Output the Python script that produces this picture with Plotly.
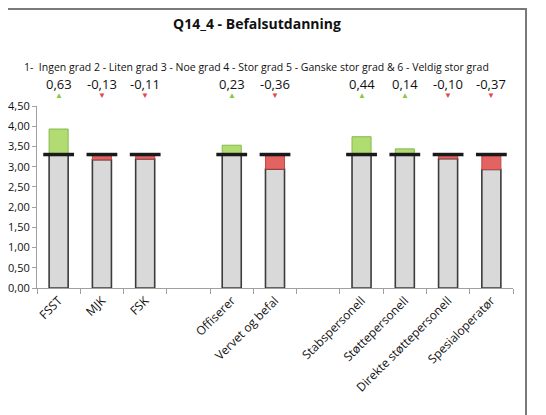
import plotly.graph_objects as go

categories = ['FSST', 'MJK', 'FSK', ' ', 'Offiserer', 'Vervet og befal', '  ',
              'Stabspersonell', 'Støttepersonell', 'Direkte støttepersonell', 'Spesialoperatør']
deltas = [0.63, -0.13, -0.11, None, 0.23, -0.36, None, 0.44, 0.14, -0.10, -0.37]
baseline = 3.30
y_ticks = [0, 0.5, 1.0, 1.5, 2.0, 2.5, 3.0, 3.5, 4.0, 4.5]
title = 'Q14_4 - Befalsutdanning'
subtitle = '1-  Ingen grad 2 - Liten grad 3 - Noe grad 4 - Stor grad 5 - Ganske stor grad & 6 - Veldig stor grad'

font = 'Open Sans'
bar_w = 0.44

cats = [c for c, d in zip(categories, deltas) if d is not None]
vals = [d for d in deltas if d is not None]
gray = [baseline + min(d, 0) for d in vals]
pos_c = [c for c, d in zip(cats, vals) if d > 0]
pos_d = [d for d in vals if d > 0]
neg_c = [c for c, d in zip(cats, vals) if d < 0]
neg_d = [d for d in vals if d < 0]

fig = go.Figure()
fig.add_trace(go.Bar(x=cats, y=gray, width=bar_w,
                     marker=dict(color='#d9d9d9', line=dict(color='#3c3c3c', width=1.6))))
fig.add_trace(go.Bar(x=pos_c, y=pos_d, base=baseline, width=bar_w,
                     marker=dict(color='#b0dc72', line=dict(color='#86b84a', width=1))))
fig.add_trace(go.Bar(x=neg_c, y=neg_d, base=baseline, width=bar_w,
                     marker=dict(color='#e36262', line=dict(color='#c24848', width=1))))
# average line
fig.add_trace(go.Scatter(x=cats, y=[baseline] * len(cats), mode='markers',
                         marker=dict(symbol='line-ew', size=22,
                                     line=dict(color='#1a1a1a', width=3.5))))

# values and arrows above the plot area
notes = [dict(text=subtitle, xref='paper', yref='paper', x=(256 - 37) / 476,
              y=(288 - 66.5) / 182, showarrow=False, xanchor='center', yanchor='middle',
              font=dict(size=10.5, family=font))]
for c, d in zip(cats, vals):
    notes.append(dict(text=f'{d:.2f}'.replace('.', ','), xref='x', yref='paper', x=c,
                      y=(288 - 84) / 182, showarrow=False, yanchor='middle',
                      font=dict(size=13, family=font, color='#111')))
    notes.append(dict(text='▲' if d > 0 else '▼', xref='x', yref='paper', x=c,
                      y=(288 - 94.5) / 182, showarrow=False, yanchor='middle',
                      font=dict(size=8, color='#8cc63f' if d > 0 else '#e04848')))

fig.update_layout(
    width=546, height=415,
    margin=dict(l=29, r=41, t=98, b=135, autoexpand=False),
    barmode='overlay',
    showlegend=False,
    plot_bgcolor='white',
    paper_bgcolor='white',
    separators=', ',
    font=dict(family=font, color='#111'),
    title=dict(text=f'<b>{title}</b>', x=249 / 546, xanchor='center',
               y=1 - 16.5 / 415, yanchor='middle', font=dict(size=14, family=font)),
    annotations=notes,
    shapes=[dict(type='rect', xref='paper', yref='paper', x0=-0.3, x1=(526 - 37) / 476,
                 y0=-1, y1=(288 - 9) / 182, line=dict(color='#7a7a7a', width=2))],
)
fig.update_xaxes(categoryorder='array', categoryarray=categories, range=[-0.5, 10.5],
                 automargin=False,
                 showline=True, linecolor='#a0a0a0', linewidth=1, ticks='outside',
                 tickson='boundaries', ticklen=5, tickcolor='#a0a0a0', tickangle=-45,
                 tickfont=dict(size=12, family=font), showgrid=False)
fig.update_yaxes(range=[0, 4.5], tickvals=y_ticks, tickformat='.2f', automargin=False,
                 showline=True, linecolor='#a0a0a0', linewidth=1, ticks='outside',
                 ticklen=4, tickcolor='#a0a0a0', showgrid=False, zeroline=False,
                 tickfont=dict(size=11, family=font))

fig.write_html('out.html')
